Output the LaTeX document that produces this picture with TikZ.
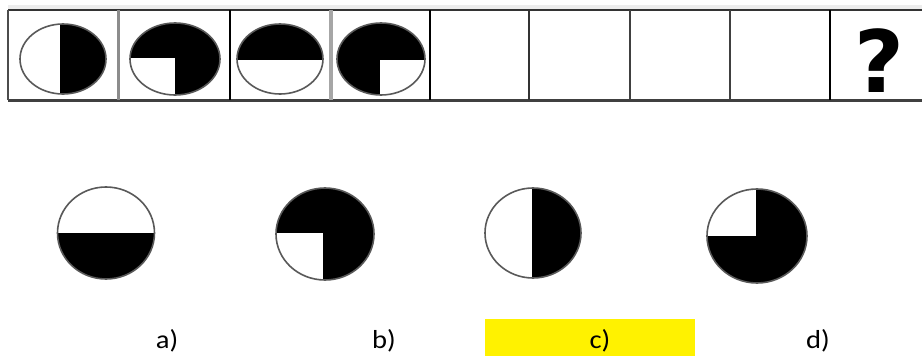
\documentclass[tikz,border=0pt]{standalone}
\usepackage{fontspec}
\setmainfont{Carlito}
\newfontfamily\qfont{DejaVu Sans}
\begin{document}
\begin{tikzpicture}[x=1pt,y=-1pt,
  rim/.style={draw=black!65, line width=1.6pt},
  lbl/.style={font=\fontsize{26}{26}\selectfont, anchor=base, inner sep=0pt, xscale=1.1},
  frame/.style={line width=2.6pt}]
\useasboundingbox (0,0) rectangle (922,356);
% strip
\fill[black!7] (8,5) rectangle (922,8.5);
\draw[frame, black!80] (8,10) -- (922,10);
\draw[frame, black!75, line width=3pt] (8,100) -- (922,100);
\draw[frame, black!70] (8,10) -- (8,100);
\draw[frame, black!45, line width=3pt] (118,10) -- (118,100);
\draw[frame, black] (230,10) -- (230,100);
\draw[frame, black!35, line width=3.5pt] (331,10) -- (331,100);
\draw[frame, black] (430,10) -- (430,100);
\draw[frame, black!80] (529,10) -- (529,100);
\draw[frame, black!75] (630,10) -- (630,100);
\draw[frame, black!75] (730,10) -- (730,100);
\draw[frame, black] (830,10) -- (830,100);
% strip circles
% 1: right black
\begin{scope}\clip (63,59) ellipse [x radius=43, y radius=35];
  \fill[white] (20,24) rectangle (107,94);
  \fill[black] (60,20) rectangle (110,100);\end{scope}
\draw[rim] (63,59) ellipse [x radius=43, y radius=35];
% 2: white bottom-left
\begin{scope}\clip (175,59) ellipse [x radius=45, y radius=36];
  \fill[black] (128,20) rectangle (222,100);
  \fill[white] (128,58) rectangle (175,100);\end{scope}
\draw[rim] (175,59) ellipse [x radius=45, y radius=36];
% 3: top black
\begin{scope}\clip (280,59) ellipse [x radius=43, y radius=35];
  \fill[white] (235,20) rectangle (325,100);
  \fill[black] (235,20) rectangle (325,60);\end{scope}
\draw[rim] (280,59) ellipse [x radius=43, y radius=35];
% 4: white bottom-right
\begin{scope}\clip (381,59) ellipse [x radius=44, y radius=36];
  \fill[black] (335,20) rectangle (428,100);
  \fill[white] (380,60) rectangle (428,100);\end{scope}
\draw[rim] (381,59) ellipse [x radius=44, y radius=36];
\node[font=\qfont\bfseries\fontsize{86}{86}\selectfont, inner sep=0pt, anchor=base] (q) at (879,92) {?};
% answer circles
% a: bottom black
\begin{scope}\clip (106,233) ellipse [x radius=48.5, y radius=46];
  \fill[white] (55,180) rectangle (160,285);
  \fill[black] (55,233) rectangle (160,285);\end{scope}
\draw[rim] (106,233) ellipse [x radius=48.5, y radius=46];
% b: white bottom-left
\begin{scope}\clip (325,234) ellipse [x radius=49, y radius=46];
  \fill[black] (272,180) rectangle (380,285);
  \fill[white] (272,233) rectangle (323,285);\end{scope}
\draw[rim] (325,234) ellipse [x radius=49, y radius=46];
% c: right black
\begin{scope}\clip (533,233) ellipse [x radius=48, y radius=45];
  \fill[white] (480,180) rectangle (585,285);
  \fill[black] (532,180) rectangle (585,285);\end{scope}
\draw[rim] (533,233) ellipse [x radius=48, y radius=45];
% d: white top-left
\begin{scope}\clip (757,236) ellipse [x radius=50, y radius=47];
  \fill[black] (700,180) rectangle (812,290);
  \fill[white] (700,180) rectangle (756,236);\end{scope}
\draw[rim] (757,236) ellipse [x radius=50, y radius=47];
% labels
\fill[yellow] (485,319) rectangle (695,356);
\node[lbl] (la) at (167,348) {a)};
\node[lbl] (lb) at (384,348) {b)};
\node[lbl] (lc) at (600,348) {c)};
\node[lbl] (ld) at (818,348) {d)};
\end{tikzpicture}
\end{document}
